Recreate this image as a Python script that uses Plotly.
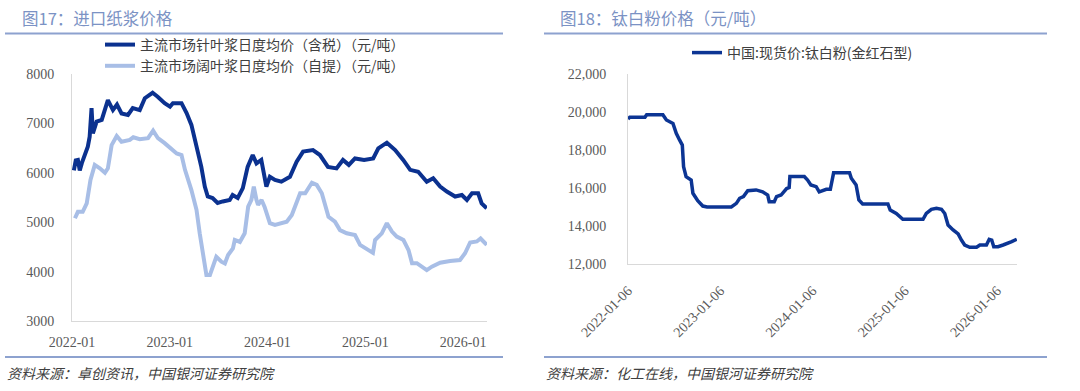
import plotly.graph_objects as go

# ---------------- Data: left chart (imported pulp prices, 元/吨) ----------------
softwood_dates = [
    "2022-01-08", "2022-01-15", "2022-01-23", "2022-01-30", "2022-02-07", "2022-02-19",
    "2022-03-01", "2022-03-08", "2022-03-15", "2022-03-20", "2022-04-03", "2022-04-22",
    "2022-05-04", "2022-05-15", "2022-06-03", "2022-06-18", "2022-07-05", "2022-07-29",
    "2022-08-16", "2022-09-11", "2022-09-30", "2022-10-29", "2022-11-17", "2022-12-13",
    "2023-01-02", "2023-01-13", "2023-02-14", "2023-03-05", "2023-03-23", "2023-04-11",
    "2023-04-29", "2023-05-12", "2023-05-23", "2023-06-10", "2023-06-29", "2023-07-18",
    "2023-08-13", "2023-08-24", "2023-09-12", "2023-10-01", "2023-10-19", "2023-11-07",
    "2023-11-21", "2023-12-09", "2023-12-28", "2024-01-10", "2024-01-29", "2024-02-22",
    "2024-03-25", "2024-04-19", "2024-05-13", "2024-06-19", "2024-07-15", "2024-08-14",
    "2024-09-15", "2024-10-09", "2024-10-31", "2024-11-23", "2024-12-27", "2025-01-30",
    "2025-02-18", "2025-03-22", "2025-04-22", "2025-05-22", "2025-06-17", "2025-07-17",
    "2025-08-18", "2025-09-11", "2025-10-07", "2025-11-01", "2025-12-02", "2025-12-27",
    "2026-01-15", "2026-02-03", "2026-02-26", "2026-03-11", "2026-03-30",
]
softwood_values = [
    6050, 6250, 6260, 6050, 6200, 6360,
    6530, 6730, 7310, 6800, 7035, 7070,
    7310, 7470, 7270, 7380, 7200, 7170,
    7310, 7270, 7510, 7620, 7540, 7410,
    7340, 7410, 7410, 7210, 6970, 6530,
    6120, 5720, 5520, 5490, 5390, 5420,
    5450, 5550, 5490, 5690, 6120, 6360,
    6190, 6260, 5720, 5920, 5855, 5820,
    5920, 6225, 6430, 6460, 6360, 6120,
    6090, 6260, 6160, 6290, 6260, 6290,
    6495, 6610, 6460, 6260, 6060, 6020,
    5820, 5890, 5720, 5620, 5520, 5550,
    5450, 5585, 5585, 5380, 5280,
]

hardwood_dates = [
    "2022-01-12", "2022-01-23", "2022-02-10", "2022-02-25", "2022-03-11", "2022-03-27",
    "2022-04-15", "2022-05-04", "2022-05-15", "2022-05-29", "2022-06-17", "2022-07-05",
    "2022-08-05", "2022-08-18", "2022-09-11", "2022-10-12", "2022-10-31", "2022-11-18",
    "2022-12-13", "2023-01-08", "2023-01-27", "2023-02-14", "2023-02-27", "2023-03-23",
    "2023-04-11", "2023-04-23", "2023-05-05", "2023-05-18", "2023-05-31", "2023-06-12",
    "2023-06-24", "2023-07-13", "2023-07-26", "2023-08-07", "2023-08-25", "2023-09-01",
    "2023-09-20", "2023-10-08", "2023-10-21", "2023-11-02", "2023-11-11", "2023-11-21",
    "2023-11-27", "2023-12-10", "2023-12-21", "2024-01-10", "2024-01-29", "2024-03-13",
    "2024-04-01", "2024-05-02", "2024-05-21", "2024-06-15", "2024-07-03", "2024-07-22",
    "2024-08-16", "2024-09-09", "2024-09-28", "2024-10-23", "2024-11-23", "2024-12-12",
    "2025-01-12", "2025-01-29", "2025-02-06", "2025-03-03", "2025-03-22", "2025-04-10",
    "2025-04-28", "2025-05-23", "2025-06-11", "2025-06-24", "2025-07-12", "2025-07-31",
    "2025-08-18", "2025-09-06", "2025-10-07", "2025-11-13", "2025-12-20", "2026-01-08",
    "2026-01-27", "2026-02-21", "2026-03-07", "2026-03-30",
]
hardwood_values = [
    5080, 5210, 5210, 5380, 5855, 6160,
    6090, 6000, 6090, 6560, 6745, 6630,
    6665, 6720, 6680, 6700, 6855, 6700,
    6600, 6475, 6390, 6360, 6060, 5650,
    5250, 4775, 4300, 3930, 3930, 4100,
    4300, 4200, 4165, 4335, 4470, 4640,
    4600, 4775, 5315, 5450, 5720, 5450,
    5350, 5450, 5315, 4980, 4945, 5010,
    5145, 5585, 5585, 5800, 5755, 5585,
    5110, 5010, 4840, 4775, 4740, 4540,
    4435, 4380, 4640, 4775, 4980, 4810,
    4710, 4640, 4435, 4170, 4170, 4100,
    4030, 4100, 4180, 4215, 4235, 4370,
    4590, 4610, 4670, 4540,
]

left_tick_dates = ["2022-01-01", "2023-01-01", "2024-01-01", "2025-01-01", "2026-01-01"]
left_tick_labels = ["2022-01", "2023-01", "2024-01", "2025-01", "2026-01"]

# ---------------- Data: right chart (titanium dioxide, 元/吨) ----------------
tio2_dates = [
    "2022-01-06", "2022-01-13", "2022-03-14", "2022-03-21", "2022-05-24", "2022-06-07",
    "2022-07-03", "2022-07-16", "2022-07-29", "2022-08-09", "2022-08-14", "2022-08-24",
    "2022-09-13", "2022-09-20", "2022-10-09", "2022-10-29", "2022-11-15", "2023-02-19",
    "2023-03-11", "2023-03-24", "2023-04-08", "2023-04-25", "2023-05-28", "2023-06-23",
    "2023-07-13", "2023-07-19", "2023-08-08", "2023-08-17", "2023-09-04", "2023-09-16",
    "2023-09-26", "2023-10-06", "2023-10-09", "2023-12-05", "2023-12-18", "2023-12-31",
    "2024-01-21", "2024-02-02", "2024-03-01", "2024-03-17", "2024-03-25", "2024-03-30",
    "2024-06-01", "2024-06-08", "2024-06-27", "2024-07-08", "2024-07-23", "2024-10-31",
    "2024-11-09", "2024-12-03", "2024-12-29", "2025-03-19", "2025-04-01", "2025-04-21",
    "2025-05-11", "2025-05-31", "2025-06-13", "2025-06-26", "2025-07-16", "2025-08-05",
    "2025-08-18", "2025-08-31", "2025-09-20", "2025-10-17", "2025-10-30", "2025-11-25",
    "2025-12-06", "2025-12-16", "2025-12-24", "2026-01-10", "2026-01-30", "2026-02-19",
    "2026-03-05", "2026-03-25",
]
tio2_values = [
    19630, 19720, 19720, 19860, 19860, 19580,
    19400, 18880, 18530, 18260, 17120, 16600,
    16420, 15720, 15330, 15050, 15000, 15000,
    15190, 15460, 15550, 15860, 15900, 15800,
    15630, 15280, 15280, 15550, 15630, 15800,
    15970, 16020, 16600, 16600, 16420, 16160,
    16070, 15800, 15930, 15930, 16420, 16800,
    16800, 16510, 16160, 15370, 15160, 15160,
    14840, 14660, 14350, 14350, 14660, 14880,
    14930, 14880, 14660, 14050, 13790, 13580,
    13260, 13000, 12880, 12880, 13000, 13000,
    13300, 13260, 12910, 12910, 13000, 13090,
    13180, 13300,
]

right_tick_dates = ["2022-01-06", "2023-01-06", "2024-01-06", "2025-01-06", "2026-01-06"]
right_tick_labels = ["2022-01-06", "2023-01-06", "2024-01-06", "2025-01-06", "2026-01-06"]

# ---------------- Styling ----------------
W, H = 1080, 391
DARK = "#0b318f"
LIGHT = "#a8bee6"
RIGHT_LINE = "#0c3594"
TITLE_C = "#7b92c4"
RULE_C = "#8da2cf"
TICK_C = "#595959"
AXIS_C = "#d9d9d9"
SERIF = "Liberation Serif, Times New Roman, serif"
CJK = "Noto Sans CJK SC, Noto Sans, sans-serif"


def px_x(x):
    return x / W


def px_y(y):
    return 1 - y / H


fig = go.Figure()

fig.add_trace(go.Scatter(
    x=softwood_dates, y=softwood_values, mode="lines",
    name="主流市场针叶浆日度均价（含税）（元/吨）",
    line=dict(color=DARK, width=4), xaxis="x", yaxis="y", legend="legend",
))
fig.add_trace(go.Scatter(
    x=hardwood_dates, y=hardwood_values, mode="lines",
    name="主流市场阔叶浆日度均价（自提）（元/吨）",
    line=dict(color=LIGHT, width=4), xaxis="x", yaxis="y", legend="legend",
))
fig.add_trace(go.Scatter(
    x=tio2_dates, y=tio2_values, mode="lines",
    name="中国:现货价:钛白粉(金红石型)",
    line=dict(color=RIGHT_LINE, width=3.5), xaxis="x2", yaxis="y2", legend="legend2",
))

axis_common = dict(showgrid=False, zeroline=False, showline=True, linecolor=AXIS_C,
                   linewidth=1, ticks="", automargin=False,
                   tickfont=dict(family=SERIF, size=14, color=TICK_C))

fig.update_layout(
    width=W, height=H,
    margin=dict(l=0, r=0, t=0, b=0, autoexpand=False),
    paper_bgcolor="white", plot_bgcolor="white",
    xaxis=dict(domain=[px_x(72), px_x(487)], anchor="y", type="date",
               range=["2022-01-01", "2026-03-31"],
               tickmode="array", tickvals=left_tick_dates, ticktext=left_tick_labels,
               ticklabelstandoff=8, **axis_common),
    yaxis=dict(domain=[px_y(321), px_y(74)], anchor="x", range=[3000, 8000],
               tickmode="linear", tick0=3000, dtick=1000, tickformat="d",
               ticklabelstandoff=14, **axis_common),
    xaxis2=dict(domain=[px_x(628), px_x(1017)], anchor="y2", type="date",
                range=["2022-01-06", "2026-03-26"],
                tickmode="array", tickvals=right_tick_dates, ticktext=right_tick_labels,
                tickangle=-45, ticklabelstandoff=12, **axis_common),
    yaxis2=dict(domain=[px_y(264), px_y(74)], anchor="x2", range=[12000, 22000],
                tickmode="linear", tick0=12000, dtick=2000, tickformat=",d",
                ticklabelstandoff=18, **axis_common),
    showlegend=True,
    legend=dict(x=px_x(100), y=px_y(29), xanchor="left", yanchor="top",
                font=dict(family=CJK, size=14, color="#404040"),
                bgcolor="rgba(0,0,0,0)", borderwidth=0, tracegroupgap=0,
                itemwidth=30),
    legend2=dict(x=px_x(687), y=px_y(37), xanchor="left", yanchor="top",
                 font=dict(family=CJK, size=14, color="#404040"),
                 bgcolor="rgba(0,0,0,0)", borderwidth=0, itemwidth=30),
)

# Titles
fig.add_annotation(x=px_x(20), y=px_y(18), xref="paper", yref="paper", xanchor="left",
                   yanchor="middle", showarrow=False, text="图17：进口纸浆价格",
                   font=dict(family=CJK, size=16.5, color=TITLE_C))
fig.add_annotation(x=px_x(558), y=px_y(18), xref="paper", yref="paper", xanchor="left",
                   yanchor="middle", showarrow=False, text="图18：钛白粉价格（元/吨）",
                   font=dict(family=CJK, size=16.5, color=TITLE_C))

# Footers
fig.add_annotation(x=px_x(5), y=px_y(373), xref="paper", yref="paper", xanchor="left",
                   yanchor="middle", showarrow=False,
                   text="<i>资料来源：卓创资讯，中国银河证券研究院</i>",
                   font=dict(family=CJK, size=14, color="#404040"))
fig.add_annotation(x=px_x(544), y=px_y(373), xref="paper", yref="paper", xanchor="left",
                   yanchor="middle", showarrow=False,
                   text="<i>资料来源：化工在线，中国银河证券研究院</i>",
                   font=dict(family=CJK, size=14, color="#404040"))

# Rules
for x0, x1 in [(5, 503), (544, 1047)]:
    for yy in (33.5, 357):
        fig.add_shape(type="line", xref="paper", yref="paper",
                      x0=px_x(x0), x1=px_x(x1), y0=px_y(yy), y1=px_y(yy),
                      line=dict(color=RULE_C, width=2))

fig.write_html("out.html", config={"displayModeBar": False},
               post_script="document.body.style.margin='0px';")
